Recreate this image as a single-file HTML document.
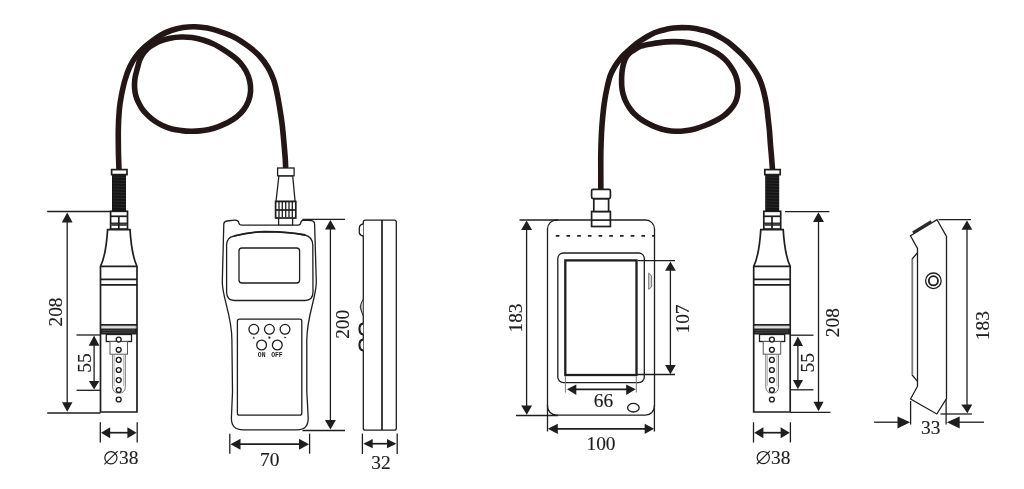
<!DOCTYPE html>
<html><head><meta charset="utf-8">
<style>
html,body{margin:0;padding:0;background:#fff;}
body{width:1024px;height:489px;overflow:hidden;}
svg{display:block;will-change:transform;}
text{font-family:"Liberation Serif",serif;fill:#1e1e1e;stroke:#1e1e1e;stroke-width:0.15;}
.l{stroke:#1e1e1e;fill:none;stroke-width:1.3;}
.t{stroke:#1e1e1e;fill:none;stroke-width:1.7;}
.g{stroke:#8a8a8a;fill:none;stroke-width:1;}
.c{stroke:#231616;fill:none;stroke-width:5.6;stroke-linecap:round;}
.ah{fill:#1e1e1e;stroke:none;}
.w{fill:#fff;}
.mono{font-family:"Liberation Mono",monospace;font-weight:bold;stroke:none;}
</style></head>
<body>
<svg width="1024" height="489" viewBox="0 0 1024 489">
<defs>
  <!-- probe centered at x=118.8 -->
  <g id="probe">
    <!-- threaded black part -->
    <rect x="112" y="174" width="14" height="37" fill="#161616"/>
    <g stroke="#3a3a3a" stroke-width="0.5">
      <line x1="113" y1="177" x2="125.5" y2="177.5"/><line x1="113" y1="180" x2="125.5" y2="180.5"/>
      <line x1="113" y1="183" x2="125.5" y2="183.5"/><line x1="113" y1="186" x2="125.5" y2="186.5"/>
      <line x1="113" y1="189" x2="125.5" y2="189.5"/><line x1="113" y1="192" x2="125.5" y2="192.5"/>
      <line x1="113" y1="195" x2="125.5" y2="195.5"/><line x1="113" y1="198" x2="125.5" y2="198.5"/>
      <line x1="113" y1="201" x2="125.5" y2="201.5"/><line x1="113" y1="204" x2="125.5" y2="204.5"/>
      <line x1="113" y1="207" x2="125.5" y2="207.5"/>
    </g>
    <!-- cap -->
    <rect x="111.6" y="169.6" width="15.4" height="5" class="t w"/>
    <!-- nut -->
    <rect x="110.6" y="211.3" width="16.9" height="17.8" class="t w"/>
    <line x1="110.6" y1="216.3" x2="127.5" y2="216.3" class="t"/>
    <line x1="110.6" y1="223.4" x2="127.5" y2="223.4" class="t"/>
    <rect x="111.2" y="223.4" width="15.6" height="2.5" fill="#444"/>
    <line x1="118.8" y1="216.3" x2="118.8" y2="229" class="t"/>
    <!-- body -->
    <path d="M107.6,229.6 L130,229.6 Q131.6,255 137,266.4 L137,412 L100.5,412 L100.5,266.4 Q106,255 107.6,229.6 Z" class="t w"/>
    <line x1="100.5" y1="266.4" x2="137" y2="266.4" class="t"/>
    <line x1="100.5" y1="279.4" x2="137" y2="279.4" class="t"/>
    <line x1="100.5" y1="284.8" x2="137" y2="284.8" class="t"/>
    <line x1="100.5" y1="324.8" x2="137" y2="324.8" class="t"/>
    <rect x="101.5" y="326.2" width="34.5" height="1.8" fill="none" stroke="#999" stroke-width="0.6"/>
    <rect x="100.5" y="328.5" width="36.5" height="6" fill="#222"/>
    <g stroke="#666" stroke-width="0.5"><line x1="102" y1="330.5" x2="135" y2="330"/><line x1="102" y1="332.5" x2="135" y2="332"/></g>
    <!-- electrode -->
    <rect x="106.3" y="334.5" width="25.2" height="7" class="l w"/>
    <rect class="w" x="110" y="341.5" width="17.5" height="12.7" stroke="#555" stroke-width="1"/>
    <path d="M112.6,354.2 L112.6,387 Q112.8,393.2 118.9,393.2 Q125.1,393.2 125.3,387 L125.3,354.2" stroke="#777" stroke-width="1" fill="none"/>
    <path d="M114.2,354.2 L114.2,386 M123.7,354.2 L123.7,386" stroke="#999" stroke-width="0.7" fill="none"/>
    <g class="w" stroke="#1e1e1e" stroke-width="1.35">
      <circle cx="118.7" cy="339.6" r="2.45"/><circle cx="118.7" cy="349.8" r="2.45"/>
      <circle cx="118.7" cy="359.9" r="2.45"/><circle cx="118.7" cy="370" r="2.45"/>
      <circle cx="118.7" cy="380.1" r="2.45"/><circle cx="118.7" cy="390" r="2.45"/>
      <circle cx="118.7" cy="399.5" r="2.45"/>
    </g>
  </g>
  <path id="cable" d="M118.8,170 C119,130 121,85 140,55 C160,25 230,18 260,45 C280,65 283,110 285.5,169"/>
</defs>

<!-- ============ CABLES ============ -->
<g class="c">
  <path d="M119.0,170.0 C118.9,166.7 118.5,156.7 118.4,150.0 C118.3,143.3 118.2,136.7 118.3,130.0 C118.4,123.3 118.8,115.8 119.3,110.0 C119.8,104.2 120.5,100.0 121.5,95.0 C122.5,90.0 123.6,84.7 125.0,80.0 C126.4,75.3 127.9,70.8 129.7,67.0 C131.4,63.2 133.3,60.1 135.5,57.0 C137.7,53.9 140.3,51.1 143.0,48.5 C145.7,45.9 148.5,43.8 151.5,41.5 C154.5,39.2 157.8,36.8 161.0,35.0 C164.2,33.2 167.3,31.8 171.0,30.5 C174.7,29.2 179.0,28.1 183.0,27.5 C187.0,26.9 190.9,26.7 195.0,26.8 C199.1,26.9 203.2,27.3 207.3,28.1 C211.4,28.9 215.0,29.9 219.5,31.4 C224.0,32.9 229.5,34.7 234.3,37.2 C239.2,39.7 244.4,43.4 248.6,46.5 C252.8,49.6 256.3,52.5 259.5,56.0 C262.7,59.5 265.7,63.6 268.0,67.5 C270.3,71.4 272.0,75.3 273.5,79.4 C275.0,83.5 275.8,87.3 276.8,92.0 C277.8,96.7 278.7,101.9 279.6,107.4 C280.5,112.9 281.5,119.0 282.2,124.8 C282.9,130.6 283.4,136.4 283.9,142.2 C284.4,148.0 285.0,155.1 285.3,159.6 C285.6,164.1 285.6,167.4 285.7,169.0"/>
  <path d="M150.0,46.5 C152.2,45.2 156.7,42.6 160.0,41.2 C163.3,39.8 166.5,38.9 170.0,38.2 C173.5,37.5 177.3,37.1 181.0,37.0 C184.7,36.9 188.3,37.0 192.0,37.5 C195.7,38.0 199.4,38.9 203.0,40.0 C206.6,41.1 210.2,42.5 213.5,44.0 C216.8,45.5 219.9,47.4 223.0,49.3 C226.1,51.2 229.2,53.3 232.0,55.5 C234.8,57.7 237.7,59.9 240.0,62.5 C242.3,65.1 244.4,68.0 246.0,71.0 C247.6,74.0 248.8,77.2 249.6,80.5 C250.4,83.8 250.8,87.6 250.6,91.0 C250.4,94.4 249.7,97.8 248.5,101.0 C247.3,104.2 245.5,107.3 243.5,110.0 C241.5,112.7 239.1,114.9 236.5,117.0 C233.9,119.1 230.8,120.9 227.8,122.5 C224.8,124.1 221.6,125.4 218.5,126.6 C215.4,127.8 212.1,128.8 209.0,129.5 C205.9,130.2 203.0,130.6 200.0,130.9 C197.0,131.2 194.0,131.4 190.9,131.3 C187.8,131.2 184.7,131.0 181.5,130.6 C178.3,130.2 175.0,129.8 171.9,129.0 C168.8,128.2 165.8,127.0 163.0,125.7 C160.2,124.5 157.8,123.1 155.4,121.5 C153.0,119.9 150.6,118.0 148.5,116.0 C146.4,114.0 144.4,112.0 142.7,109.8 C141.0,107.5 139.7,104.9 138.5,102.5 C137.3,100.1 136.3,97.6 135.7,95.2 C135.0,92.8 134.8,90.2 134.6,88.0 C134.4,85.8 134.5,83.9 134.6,82.0 C134.7,80.1 135.0,78.2 135.3,76.5 C135.6,74.8 136.1,73.3 136.5,71.6 C136.9,69.8 137.5,67.8 138.0,66.0 C138.5,64.2 138.9,62.2 139.5,60.6 C140.1,59.0 140.8,57.6 141.5,56.3 C142.2,54.9 143.1,53.7 144.0,52.5 C144.9,51.3 146.0,50.2 147.0,49.2 C148.0,48.2 147.8,47.8 150.0,46.5Z"/>
  <path d="M600.8,190.0 C600.8,187.7 600.8,181.8 600.8,175.9 C600.8,170.0 600.7,161.6 600.8,154.4 C600.9,147.2 601.2,139.1 601.5,133.0 C601.8,126.9 602.1,123.0 602.6,118.0 C603.1,113.0 603.6,107.8 604.3,103.0 C605.0,98.2 605.8,93.5 606.8,89.0 C607.8,84.5 608.8,79.8 610.1,76.0 C611.4,72.2 613.1,69.4 614.8,66.5 C616.5,63.6 618.5,60.9 620.3,58.7 C622.1,56.5 623.8,54.9 625.5,53.2 C627.2,51.5 628.9,50.0 630.6,48.5 C632.3,47.0 634.1,45.5 635.8,44.2 C637.5,42.9 638.3,42.1 640.8,40.5 C643.3,38.9 648.0,35.9 651.0,34.4 C654.0,32.9 656.0,32.2 658.5,31.4 C661.0,30.5 663.7,29.9 666.3,29.3 C668.9,28.7 671.4,28.3 674.0,28.0 C676.6,27.7 679.1,27.6 681.7,27.6 C684.3,27.6 687.0,27.6 689.5,27.8 C692.0,28.0 694.4,28.3 697.0,28.8 C699.6,29.3 702.3,29.8 705.0,30.6 C707.7,31.4 710.4,32.2 713.0,33.4 C715.6,34.6 718.1,36.0 720.9,37.6 C723.6,39.2 726.8,41.1 729.5,43.2 C732.2,45.3 734.9,47.8 737.3,50.0 C739.7,52.2 742.0,54.3 744.0,56.5 C746.0,58.7 747.8,60.8 749.5,63.0 C751.2,65.2 753.0,67.6 754.5,70.0 C756.0,72.4 757.5,74.8 758.7,77.3 C759.9,79.8 760.9,82.5 761.8,85.0 C762.6,87.5 763.1,89.3 763.8,92.0 C764.5,94.7 765.2,98.0 765.8,101.0 C766.4,104.0 766.8,106.8 767.2,110.0 C767.6,113.2 767.9,116.7 768.3,120.0 C768.7,123.3 769.0,125.8 769.4,130.0 C769.8,134.2 770.1,140.5 770.5,145.2 C770.9,149.9 771.3,153.9 771.6,158.0 C771.9,162.1 772.4,168.0 772.5,170.0"/>
  <path d="M634.0,50.0 C635.8,48.9 638.0,47.2 640.8,46.2 C643.6,45.2 646.8,44.6 651.0,43.9 C655.2,43.2 661.2,42.2 666.3,41.9 C671.4,41.6 676.6,41.5 681.7,41.9 C686.8,42.3 692.6,43.3 697.0,44.4 C701.4,45.5 704.7,47.0 708.0,48.5 C711.3,50.0 714.2,51.5 717.0,53.2 C719.8,55.0 722.3,57.0 724.5,59.0 C726.7,61.0 728.4,63.2 730.0,65.5 C731.6,67.8 733.1,70.1 734.3,72.5 C735.5,74.9 736.4,77.4 737.0,80.0 C737.6,82.6 737.9,85.3 738.0,88.0 C738.1,90.7 737.9,93.4 737.4,96.0 C736.9,98.6 736.0,101.2 734.8,103.5 C733.6,105.8 731.9,107.9 730.0,110.0 C728.1,112.1 726.0,114.2 723.5,116.0 C721.0,117.8 718.1,119.4 715.0,121.0 C711.9,122.6 708.4,124.2 705.0,125.5 C701.6,126.8 698.1,128.1 694.8,129.0 C691.5,129.9 688.2,130.4 685.0,130.8 C681.8,131.2 678.7,131.4 675.6,131.3 C672.5,131.2 669.5,130.9 666.5,130.3 C663.5,129.7 660.7,128.9 657.9,127.9 C655.1,126.9 652.2,125.7 649.5,124.3 C646.8,122.9 643.9,121.3 641.4,119.6 C638.9,117.9 636.5,116.0 634.5,113.9 C632.5,111.9 630.6,109.5 629.1,107.3 C627.6,105.1 626.3,102.8 625.3,100.5 C624.3,98.2 623.6,96.0 623.0,93.7 C622.4,91.4 622.0,89.0 621.8,86.7 C621.6,84.4 621.6,82.3 621.6,80.0 C621.6,77.7 621.7,75.2 621.9,73.0 C622.1,70.8 622.5,68.5 622.9,66.5 C623.3,64.5 623.8,62.7 624.4,61.0 C625.0,59.3 625.7,57.9 626.6,56.5 C627.5,55.1 628.8,53.8 630.0,52.7 C631.2,51.6 632.2,51.1 634.0,50.0Z"/>
</g>

<!-- ============ LEFT PROBE ============ -->
<use href="#probe"/>
<!-- dims left probe -->
<line x1="47.2" y1="211.5" x2="110.6" y2="211.5" class="l"/>
<line x1="47.2" y1="413" x2="100.5" y2="413" class="l"/>
<line x1="67.2" y1="221" x2="67.2" y2="403" class="l"/>
<path d="M67.2,212.5 L72.6,222.6 L61.8,222.6 Z" class="ah"/>
<path d="M67.2,411.8 L72.5,402.2 L62,402.2 Z" class="ah"/>
<text transform="translate(61.9,312) rotate(-90)" font-size="19.4" text-anchor="middle">208</text>
<line x1="76.5" y1="335" x2="100.5" y2="335" class="l"/>
<line x1="76.5" y1="390.3" x2="100.5" y2="390.3" class="l"/>
<line x1="94.1" y1="344" x2="94.1" y2="382" class="l"/>
<path d="M94.1,335.6 L99.4,345.8 L88.7,345.8 Z" class="ah"/>
<path d="M94.1,389.6 L99.4,381 L88.8,381 Z" class="ah"/>
<text transform="translate(91.4,363) rotate(-90)" font-size="19.4" text-anchor="middle">55</text>
<line x1="100.3" y1="422.3" x2="100.3" y2="442.5" class="l"/>
<line x1="137.2" y1="422.3" x2="137.2" y2="442.5" class="l"/>
<line x1="108" y1="432.7" x2="130" y2="432.7" class="t"/>
<path d="M101,432.7 L110.2,427.2 L110.2,438.2 Z" class="ah"/>
<path d="M136.6,432.7 L127.4,427.2 L127.4,438.2 Z" class="ah"/>
<circle cx="110.9" cy="457.8" r="6.1" stroke="#1e1e1e" stroke-width="1.2" fill="none"/><line x1="104.4" y1="464.4" x2="117.6" y2="451.1" stroke="#1e1e1e" stroke-width="1.1"/><text x="128.7" y="464" font-size="19.4" text-anchor="middle">38</text>

<!-- ============ HANDHELD DEVICE ============ -->
<!-- connector -->
<rect x="278.6" y="216" width="14" height="9.5" class="l w"/>
<path d="M278.9,175.8 L292.7,175.8 L295.1,201.5 L276,201.5 Z" class="l w"/>
<rect x="275.6" y="201.5" width="20.2" height="16.5" class="t w"/>
<line x1="275.6" y1="210" x2="295.8" y2="210" class="t"/>
<g class="l"><line x1="279" y1="202" x2="279" y2="217.5"/><line x1="282.3" y1="202" x2="282.3" y2="217.5"/><line x1="285.7" y1="202" x2="285.7" y2="217.5"/><line x1="289" y1="202" x2="289" y2="217.5"/><line x1="292.3" y1="202" x2="292.3" y2="217.5"/></g>
<rect x="277.6" y="168" width="16.5" height="7.8" class="l w"/>
<!-- body outline -->
<path d="M223.8,224 Q224,221.5 227,221 L234.5,220.2 Q238.3,220 238.7,222.5 Q239.2,225.2 242,225.2 L298,225.2 Q300.5,225.2 300.8,222.5 Q301.2,220.2 304,220.1 L311.5,220.6 Q314.5,221 314.6,224 L316.3,282 C316.3,298 307,315 306.8,340 L306.8,392 Q307.6,405 308.2,418 Q308.5,429.8 297,429.8 L243,429.8 Q231.3,429.8 231.4,418 Q231.9,405 232.5,392 L231.9,340 C231.9,315 222.3,298 222.3,282 Z" class="l w"/>
<!-- display frame -->
<path d="M226.6,245 Q226.6,237.5 234,236 Q250,232 265,231.6 Q290,231.8 305,235 Q312.5,237 312.8,245 L313,292 Q313,300.5 305,300.5 L234.5,300.5 Q226.6,300.5 226.6,292 Z" class="l"/>
<path d="M234,236 Q250,232 265,231.6 Q290,231.8 305,235" stroke="#1e1e1e" stroke-width="1.8" fill="none"/>
<rect x="239" y="248" width="60.6" height="35" rx="3" class="l"/>
<!-- keypad -->
<rect x="237.4" y="319.2" width="64.4" height="96" rx="2" class="l"/>
<g class="l" stroke-width="1.1">
  <circle cx="253.8" cy="329.3" r="4.9"/><circle cx="269.4" cy="329.3" r="4.9"/><circle cx="285" cy="329.3" r="4.9"/>
  <circle cx="261.6" cy="345" r="4.9"/><circle cx="277.3" cy="345" r="4.9"/>
</g>
<path d="M253.8,336.6 L255,338.6 L252.6,338.6 Z" class="ah"/>
<rect x="268.4" y="336.6" width="2" height="2" class="ah"/>
<path d="M284.4,336.6 L286.6,337.6 L284.4,338.6 Z" class="ah"/>
<text x="261.7" y="356.9" font-size="6.4" text-anchor="middle" class="mono">ON</text>
<text x="276.9" y="356.9" font-size="6.4" text-anchor="middle" class="mono">OFF</text>
<!-- dims 200 -->
<line x1="302.4" y1="219.3" x2="345.1" y2="219.3" class="l"/>
<line x1="302.4" y1="430.5" x2="345" y2="430.5" class="l"/>
<line x1="330.4" y1="228" x2="330.4" y2="421" class="l"/>
<path d="M330.4,220 L335.9,229.6 L325,229.6 Z" class="ah"/>
<path d="M330.4,429.6 L335.9,420 L325,420 Z" class="ah"/>
<text transform="translate(349,324.3) rotate(-90)" font-size="19.4" text-anchor="middle">200</text>
<!-- dims 70 -->
<line x1="229.8" y1="433.7" x2="229.8" y2="453.7" class="l"/>
<line x1="309.6" y1="433.7" x2="309.6" y2="453.7" class="l"/>
<line x1="238" y1="444.2" x2="302" y2="444.2" class="t"/>
<path d="M230.5,444.2 L240.5,438.7 L240.5,449.7 Z" class="ah"/>
<path d="M309,444.2 L299,438.7 L299,449.7 Z" class="ah"/>
<text x="269.7" y="466" font-size="19.4" text-anchor="middle">70</text>

<!-- ============ SIDE VIEW 1 ============ -->
<rect x="363.3" y="220.2" width="33" height="210" rx="2" class="l w"/>
<line x1="382" y1="220" x2="382" y2="430" class="t"/>
<path d="M363.3,224 Q359.5,224.5 359.3,228 L359.3,233 Q360,235.5 363.3,236" class="l w"/>
<path d="M363.3,299 Q360.6,304 360.3,306.6 Q360.6,309.5 363.3,315.8" stroke="#333" stroke-width="1.1" fill="#bbb"/>
<path d="M363.3,323.6 Q359.6,323.6 359.4,329 Q359.6,334.4 363.3,334.4" class="w" stroke="#1e1e1e" stroke-width="2.1"/>
<path d="M363.3,339.6 Q359.6,339.6 359.4,345 Q359.6,350.4 363.3,350.4" class="w" stroke="#1e1e1e" stroke-width="2.1"/>
<!-- dims 32 -->
<line x1="362.4" y1="433.6" x2="362.4" y2="454" class="l"/>
<line x1="397.2" y1="433.6" x2="397.2" y2="454" class="l"/>
<line x1="370" y1="443.7" x2="390" y2="443.7" class="t"/>
<path d="M363.3,443.7 L372.7,439 L372.7,448.3 Z" class="ah"/>
<path d="M396.4,443.7 L387,439 L387,448.3 Z" class="ah"/>
<text x="381" y="469" font-size="19.4" text-anchor="middle">32</text>

<!-- ============ TABLET DEVICE ============ -->
<rect x="547.5" y="220" width="107" height="195.2" rx="9" class="l w"/>
<line x1="555.8" y1="235.8" x2="654" y2="235.8" stroke="#1e1e1e" stroke-width="1.8" stroke-dasharray="3.6,7.1" fill="none"/>
<rect x="557.8" y="253" width="86.5" height="129.6" rx="5.5" class="l"/>
<rect x="565.3" y="260.4" width="71.2" height="114.6" stroke="#1e1e1e" stroke-width="2.3" fill="none"/>
<path d="M648.7,273.2 L648.7,289.3 L651.6,286.9 L651.6,275.8 Z" stroke="#555" stroke-width="0.8" fill="#d8d8d8"/>
<ellipse cx="633.4" cy="407.7" rx="5.8" ry="4.3" class="l"/>
<!-- connector -->
<rect x="591.6" y="211.5" width="18.8" height="15" class="t w"/>
<line x1="591.6" y1="220.1" x2="610.4" y2="220.1" class="t"/>
<rect x="593.8" y="198.6" width="14.8" height="12.9" class="t w"/>
<rect x="591.6" y="189.3" width="18.8" height="9.3" rx="1.5" class="t w"/>
<!-- dims 183 -->
<line x1="519.5" y1="220" x2="558" y2="220" class="l"/>
<line x1="516" y1="415.5" x2="558" y2="415.5" class="l"/>
<line x1="526.6" y1="229" x2="526.6" y2="406" class="l"/>
<path d="M526.6,220.5 L532.1,230 L521.1,230 Z" class="ah"/>
<path d="M526.8,414.7 L532,405.5 L521.2,405.5 Z" class="ah"/>
<text transform="translate(522.2,318) rotate(-90)" font-size="19.4" text-anchor="middle">183</text>
<!-- dims 107 -->
<line x1="637.6" y1="260.6" x2="675" y2="260.6" class="l"/>
<line x1="636.8" y1="374.5" x2="675" y2="374.5" class="l"/>
<line x1="670.4" y1="270" x2="670.4" y2="366" class="l"/>
<path d="M670.4,261.4 L675.8,270.7 L665.1,270.7 Z" class="ah"/>
<path d="M670.4,374.2 L675.8,365 L665.1,365 Z" class="ah"/>
<text transform="translate(689.2,319) rotate(-90)" font-size="19.4" text-anchor="middle">107</text>
<!-- dims 66 -->
<line x1="565.4" y1="376.2" x2="565.4" y2="392.6" stroke="#777" stroke-width="1"/>
<line x1="636.3" y1="376.2" x2="636.3" y2="392.6" stroke="#777" stroke-width="1"/>
<line x1="574" y1="389.3" x2="628" y2="389.3" class="t"/>
<path d="M567,389.3 L576.3,384.4 L576.3,395 Z" class="ah"/>
<path d="M635.7,389.3 L626.2,384.4 L626.2,395 Z" class="ah"/>
<text x="603.4" y="406.5" font-size="19.4" text-anchor="middle">66</text>
<!-- dims 100 -->
<line x1="547.5" y1="405" x2="547.5" y2="431.5" class="l"/>
<line x1="654.4" y1="405" x2="654.4" y2="431.5" class="l"/>
<line x1="555" y1="428.8" x2="647" y2="428.8" class="t"/>
<path d="M547.9,428.8 L557.8,423.7 L557.8,433.9 Z" class="ah"/>
<path d="M654,428.8 L644.7,423.7 L644.7,433.9 Z" class="ah"/>
<text x="601" y="449.6" font-size="19.4" text-anchor="middle">100</text>

<!-- ============ RIGHT PROBE ============ -->
<use href="#probe" x="653.2"/>
<line x1="785" y1="211.6" x2="829.4" y2="211.6" class="l"/>
<line x1="791" y1="412.3" x2="830.4" y2="412.3" class="l"/>
<line x1="818.5" y1="221" x2="818.5" y2="402" class="l"/>
<path d="M818.4,212.3 L824,222.1 L813,222.1 Z" class="ah"/>
<path d="M818.5,411.2 L823.6,401.7 L813.5,401.7 Z" class="ah"/>
<text transform="translate(838.9,322.7) rotate(-90)" font-size="19.4" text-anchor="middle">208</text>
<line x1="791" y1="335.2" x2="813.5" y2="335.2" class="l"/>
<line x1="791" y1="389.8" x2="813.5" y2="389.8" class="l"/>
<line x1="797.9" y1="344" x2="797.9" y2="382" class="l"/>
<path d="M797.9,336.5 L803,346 L793,346 Z" class="ah"/>
<path d="M797.9,389.2 L803,380 L793,380 Z" class="ah"/>
<text transform="translate(814.2,362.8) rotate(-90)" font-size="19.4" text-anchor="middle">55</text>
<line x1="753.5" y1="422.3" x2="753.5" y2="442.5" class="l"/>
<line x1="790.4" y1="422.3" x2="790.4" y2="442.5" class="l"/>
<line x1="761" y1="432.7" x2="783" y2="432.7" class="t"/>
<path d="M754.2,432.7 L763.4,427.2 L763.4,438.2 Z" class="ah"/>
<path d="M789.8,432.7 L780.6,427.2 L780.6,438.2 Z" class="ah"/>
<circle cx="763.3" cy="457.6" r="6.1" stroke="#1e1e1e" stroke-width="1.2" fill="none"/><line x1="756.9" y1="464" x2="770" y2="450.9" stroke="#1e1e1e" stroke-width="1.1"/><text x="780.8" y="464" font-size="19.4" text-anchor="middle">38</text>

<!-- ============ SIDE VIEW 2 ============ -->
<path d="M937,219.7 L946.5,236.5 L946.5,398.5 L936.8,414 L910.6,399 L917.5,386.2 L917.5,248.4 L910.5,235.8 Z" class="l w"/>
<path d="M913.6,233.7 L932,222.4 L930.6,220.2 L912.2,231.5 Z" fill="#2a2a2a"/>
<path d="M917.5,252.8 L912.3,258.7 L912.3,375.2 L917.5,381.3" class="l"/>
<line x1="912.6" y1="259" x2="912.6" y2="375" stroke="#777" stroke-width="1.2"/>
<circle cx="933.4" cy="280.8" r="7.8" class="l" stroke-width="1"/>
<circle cx="933.4" cy="280.8" r="4.6" stroke="#1e1e1e" stroke-width="1.8" fill="none"/>
<!-- dims 183 -->
<line x1="938.5" y1="219.7" x2="971" y2="219.7" class="l"/>
<line x1="940.5" y1="414" x2="972" y2="414" class="l"/>
<line x1="967" y1="229" x2="967" y2="405" class="l"/>
<path d="M967,220.5 L972.3,229.8 L961.5,229.8 Z" class="ah"/>
<path d="M967.4,413.2 L972.3,404.5 L961.3,404.5 Z" class="ah"/>
<text transform="translate(988.9,325.6) rotate(-90)" font-size="19.4" text-anchor="middle">183</text>
<!-- dims 33 -->
<line x1="910.6" y1="401" x2="910.6" y2="424.6" class="l"/>
<line x1="946.1" y1="399.3" x2="946.1" y2="424.6" class="l"/>
<line x1="874.1" y1="422.2" x2="900" y2="422.2" class="l"/>
<line x1="957" y1="422.2" x2="984" y2="422.2" class="l"/>
<path d="M910.1,422.2 L897.5,416.5 L897.5,428.4 Z" class="ah"/>
<path d="M946.9,422.2 L959.7,416.5 L959.7,428.4 Z" class="ah"/>
<text x="930.8" y="434" font-size="19.4" text-anchor="middle">33</text>
</svg>
</body></html>
